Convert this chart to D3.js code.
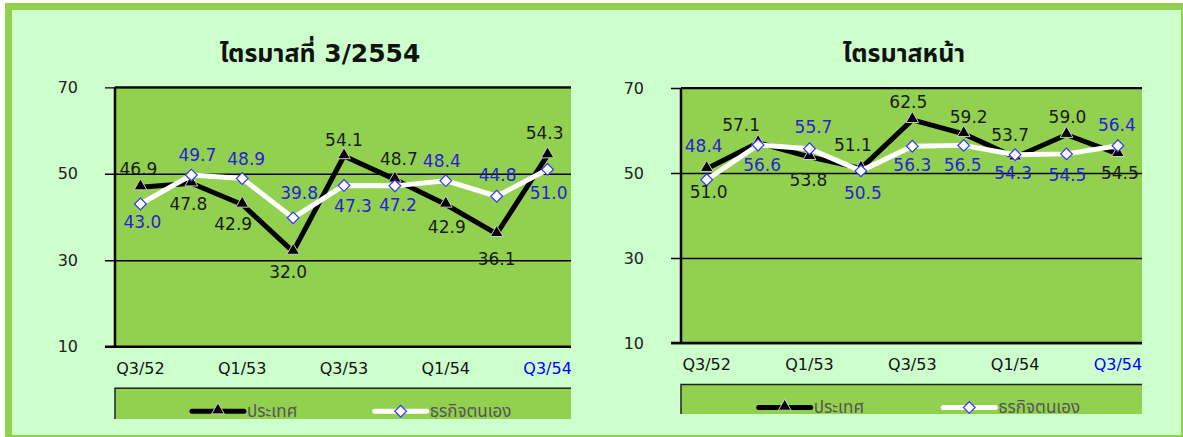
<!DOCTYPE html>
<html>
<head>
<meta charset="utf-8">
<script src="https://cdn.jsdelivr.net/npm/d3@7"></script>
<style>
  html, body { margin: 0; padding: 0; background: #fff; }
  svg { display: block; }
  text { font-family: "DejaVu Sans", "Noto Sans Thai", Tahoma, sans-serif; }
</style>
</head>
<body>
<div id="chart"></div>
<script>
// data
const quarters = ['Q3/52', 'Q4/52', 'Q1/53', 'Q2/53', 'Q3/53', 'Q4/53', 'Q1/54', 'Q2/54', 'Q3/54'];
const tickLabels = ['Q3/52', 'Q1/53', 'Q3/53', 'Q1/54', 'Q3/54'];
const yTicks = [10, 30, 50, 70];
const seriesNames = ['ประเทศ', 'ธุรกิจตนเอง'];
const titles = ['ไตรมาสที่ 3/2554', 'ไตรมาสหน้า'];

const currentCountry = [46.9, 47.8, 42.9, 32.0, 54.1, 48.7, 42.9, 36.1, 54.3];
const currentOwn = [43.0, 49.7, 48.9, 39.8, 47.3, 47.2, 48.4, 44.8, 51.0];
const nextCountry = [51.0, 57.1, 53.8, 51.1, 62.5, 59.2, 53.7, 59.0, 54.5];
const nextOwn = [48.4, 56.6, 55.7, 50.5, 56.3, 56.5, 54.3, 54.5, 56.4];

// label nudges (px) as the labels sit in the picture: [dx, dy] from the point
const currentCountryNudge = [[-2, -18], [-3, 21], [-9, 19], [-5, 20], [0, -16], [4, -21], [1, 22], [0, 25], [-3, -22]];
const currentOwnNudge = [[2, 18], [6, -20], [4, -20], [6, -25], [9, 20], [3, 19], [-4, -20], [1, -21], [1, 23]];
const nextCountryNudge = [[2, 23], [-17, -18], [-1, 23], [-8, -23], [-4, -18], [5, -17], [-5, -22], [1, -18], [2, 19]];
const nextOwnNudge = [[-3, -34], [4, 20], [4, -22], [2, 22], [0, 19], [-1, 20], [-2, 18], [1, 21], [-1, -21]];

const W = 1183, H = 437;
const svg = d3.select('#chart').append('svg')
    .attr('width', W)
    .attr('height', H);

// outer frame
svg.append('rect').attr('x', 5).attr('y', 3).attr('width', W).attr('height', H)
    .attr('fill', '#92d050');
svg.append('rect').attr('x', 12).attr('y', 10).attr('width', 1169).attr('height', 425)
    .attr('fill', '#ccffcc');

const panels = [
    { title: titles[0], titleX: 320, left: 115, width: 458, top: 87.3, bottom: 346.7,
      clipX: 571, clipY: 419, country: currentCountry, own: currentOwn,
      countryNudge: currentCountryNudge, ownNudge: currentOwnNudge },
    { title: titles[1], titleX: 904, left: 681, width: 462.6, top: 88, bottom: 343,
      clipX: 1142, clipY: 414, country: nextCountry, own: nextOwn,
      countryNudge: nextCountryNudge, ownNudge: nextOwnNudge }
];

panels.forEach((p, pi) => drawPanel(p, pi));

function drawPanel(p, pi) {
    const clipId = 'clip' + pi;
    svg.append('clipPath').attr('id', clipId)
        .append('rect').attr('x', 0).attr('y', 0).attr('width', p.clipX).attr('height', p.clipY);

    const g = svg.append('g').attr('clip-path', `url(#${clipId})`);

    const x = d3.scaleBand()
        .domain(quarters)
        .range([p.left, p.left + p.width]);
    const y = d3.scaleLinear()
        .domain([10, 70])
        .range([p.bottom, p.top]);
    const cx = d => x(d) + x.bandwidth() / 2;

    // title
    g.append('text')
        .attr('x', p.titleX)
        .attr('y', 62)
        .attr('text-anchor', 'middle')
        .attr('font-size', 25)
        .attr('font-weight', 'bold')
        .attr('fill', '#111')
        .text(p.title);

    // plot area
    g.append('rect')
        .attr('x', p.left).attr('y', p.top)
        .attr('width', p.width + 20).attr('height', p.bottom - p.top)
        .attr('fill', '#92d050');

    // gridlines + y axis
    const yAxis = d3.axisLeft(y)
        .tickValues(yTicks)
        .tickSize(p.width + 10)
        .tickFormat(d3.format('d'))
        .tickPadding(27);
    const ya = g.append('g')
        .attr('transform', `translate(${p.left + p.width},0)`)
        .call(yAxis);
    ya.select('.domain').remove();
    ya.selectAll('line').attr('stroke', '#000').attr('stroke-width', 1.3);
    ya.selectAll('text').attr('font-size', 16).attr('fill', '#222');

    // frame lines: top, left, bottom
    g.append('line').attr('x1', p.left).attr('x2', p.left + p.width + 20)
        .attr('y1', p.top).attr('y2', p.top).attr('stroke', '#000').attr('stroke-width', 2);
    g.append('line').attr('x1', p.left).attr('x2', p.left)
        .attr('y1', p.top).attr('y2', p.bottom).attr('stroke', '#000').attr('stroke-width', 2.5);
    g.append('line').attr('x1', p.left - 10).attr('x2', p.left + p.width + 20)
        .attr('y1', p.bottom).attr('y2', p.bottom).attr('stroke', '#000').attr('stroke-width', 2.5);

    // x axis labels
    const xAxis = d3.axisBottom(x)
        .tickValues(tickLabels)
        .tickSize(0)
        .tickPadding(16);
    const xa = g.append('g')
        .attr('transform', `translate(0,${p.bottom})`)
        .call(xAxis);
    xa.select('.domain').remove();
    xa.selectAll('text')
        .attr('font-size', 16)
        .attr('fill', d => d === 'Q3/54' ? '#0000ff' : '#111');

    const line = d3.line()
        .x((d, i) => cx(quarters[i]))
        .y(d => y(d));

    // country series
    g.append('path').datum(p.country)
        .attr('d', line)
        .attr('fill', 'none')
        .attr('stroke', '#000')
        .attr('stroke-width', 5)
        .attr('stroke-linejoin', 'round');
    g.selectAll('.tri')
        .data(p.country)
        .enter().append('path')
        .attr('class', 'tri')
        .attr('d', d3.symbol(d3.symbolTriangle, 70))
        .attr('transform', (d, i) => `translate(${cx(quarters[i])},${y(d) - 1})`)
        .attr('fill', '#000')
        .attr('stroke', '#ccc')
        .attr('stroke-width', 1);

    // own business series
    g.append('path').datum(p.own)
        .attr('d', line)
        .attr('fill', 'none')
        .attr('stroke', '#fff')
        .attr('stroke-width', 5)
        .attr('stroke-linejoin', 'round');
    g.selectAll('.dia')
        .data(p.own)
        .enter().append('path')
        .attr('class', 'dia')
        .attr('d', d3.symbol(d3.symbolSquare, 68))
        .attr('transform', (d, i) => `translate(${cx(quarters[i])},${y(d)}) rotate(45)`)
        .attr('fill', '#fff')
        .attr('stroke', '#3333ff')
        .attr('stroke-width', 1.2);

    // data labels
    g.selectAll('.lblc')
        .data(p.country)
        .enter().append('text')
        .attr('class', 'lblc')
        .attr('x', (d, i) => cx(quarters[i]) + p.countryNudge[i][0])
        .attr('y', (d, i) => y(d) + p.countryNudge[i][1])
        .attr('dy', '0.36em')
        .attr('text-anchor', 'middle')
        .attr('font-size', 17)
        .attr('fill', '#1a1a1a')
        .text(d => d.toFixed(1));
    g.selectAll('.lblo')
        .data(p.own)
        .enter().append('text')
        .attr('class', 'lblo')
        .attr('x', (d, i) => cx(quarters[i]) + p.ownNudge[i][0])
        .attr('y', (d, i) => y(d) + p.ownNudge[i][1])
        .attr('dy', '0.36em')
        .attr('text-anchor', 'middle')
        .attr('font-size', 17)
        .attr('fill', '#2323d8')
        .text(d => d.toFixed(1));

    // legend
    const ly = p.bottom + 41.5;
    g.append('rect')
        .attr('x', p.left).attr('y', ly)
        .attr('width', p.width + 20).attr('height', 60)
        .attr('fill', '#92d050')
        .attr('stroke', '#222')
        .attr('stroke-width', 1.5);
    const items = [
        { name: seriesNames[0], fx: 0.168, stroke: '#000', sym: 'tri' },
        { name: seriesNames[1], fx: 0.567, stroke: '#fff', sym: 'dia' }
    ];
    items.forEach(it => {
        const x0 = p.left + p.width * it.fx;
        const yy = ly + 23;
        g.append('line')
            .attr('x1', x0).attr('x2', x0 + 52)
            .attr('y1', yy).attr('y2', yy)
            .attr('stroke', it.stroke)
            .attr('stroke-width', 5)
            .attr('stroke-linecap', 'round');
        if (it.sym === 'tri') {
            g.append('path')
                .attr('d', d3.symbol(d3.symbolTriangle, 70))
                .attr('transform', `translate(${x0 + 26},${yy - 1})`)
                .attr('fill', '#000').attr('stroke', '#ccc');
        } else {
            g.append('path')
                .attr('d', d3.symbol(d3.symbolSquare, 68))
                .attr('transform', `translate(${x0 + 26},${yy}) rotate(45)`)
                .attr('fill', '#fff').attr('stroke', '#3333ff').attr('stroke-width', 1.2);
        }
        g.append('text')
            .attr('x', x0 + 55)
            .attr('y', yy)
            .attr('dy', '0.35em')
            .attr('font-size', 17)
            .attr('fill', '#555')
            .text(it.name);
    });
}
</script>
</body>
</html>
